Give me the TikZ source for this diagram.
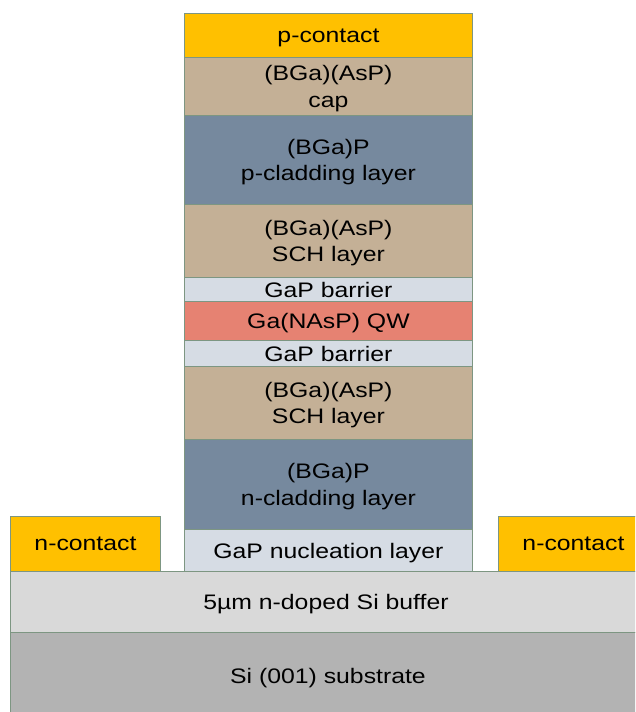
\documentclass[tikz,border=0pt]{standalone}
\usepackage{fontspec}
\setmainfont{Liberation Sans}[FakeStretch=1.18]
\definecolor{contact}{RGB}{255,192,0}
\definecolor{tan}{RGB}{196,176,150}
\definecolor{slate}{RGB}{118,137,158}
\definecolor{barrier}{RGB}{214,220,228}
\definecolor{qw}{RGB}{230,130,114}
\definecolor{buffer}{RGB}{217,217,217}
\definecolor{subst}{RGB}{179,179,179}
\definecolor{edge}{RGB}{125,150,130}
\begin{document}
\begin{tikzpicture}[x=1pt,y=-1pt,
  layer/.style={draw=edge, line width=0.9pt, anchor=north west, align=center,
    inner sep=0pt, text depth=0pt, font=\fontsize{21}{26.5}\selectfont, text=black},
  label text/.style={font=\fontsize{21}{26.5}\selectfont, inner sep=0pt, text depth=0pt}]
\useasboundingbox (0,0) rectangle (635,712);
\clip (0,0) rectangle (635,712);
\fill[white] (0,0) rectangle (635,712);
% stack
\node[layer, fill=contact, minimum width=288, minimum height=44] (pc) at (184,13) {p-contact};
\node[layer, fill=tan, minimum width=288, minimum height=58] (cap) at (184,57) {(BGa)(AsP)\\cap};
\node[layer, fill=slate, minimum width=288, minimum height=89] (pclad) at (184,115) {(BGa)P\\p-cladding layer};
\node[layer, fill=tan, minimum width=288, minimum height=73] (sch1) at (184,204) {(BGa)(AsP)\\SCH layer};
\node[layer, fill=barrier, minimum width=288, minimum height=24] (b1) at (184,277) {GaP barrier};
\node[layer, fill=qw, minimum width=288, minimum height=39] (qw) at (184,301) {Ga(NAsP) QW};
\node[layer, fill=barrier, minimum width=288, minimum height=26] (b2) at (184,340) {GaP barrier};
\node[layer, fill=tan, minimum width=288, minimum height=73] (sch2) at (184,366) {(BGa)(AsP)\\SCH layer};
\node[layer, fill=slate, minimum width=288, minimum height=90] (nclad) at (184,439) {(BGa)P\\n-cladding layer};
\node[layer, fill=barrier, minimum width=288, minimum height=42] (nuc) at (184,529) {GaP nucleation layer};
% contacts
\node[layer, fill=contact, minimum width=150, minimum height=55] (nl) at (10,516) {n-contact};
\node[layer, fill=contact, minimum width=150, minimum height=55] (nr) at (498,516) {n-contact};
% buffer and substrate
\node[layer, fill=buffer, minimum width=640, minimum height=61] (buf) at (10,571) {};
\node[label text] (buftxt) at (326,602) {5µm n-doped Si buffer};
\node[layer, fill=subst, minimum width=640, minimum height=90] (sub) at (10,632) {};
\node[label text] (subtxt) at (328,676) {Si (001) substrate};
\end{tikzpicture}
\end{document}
